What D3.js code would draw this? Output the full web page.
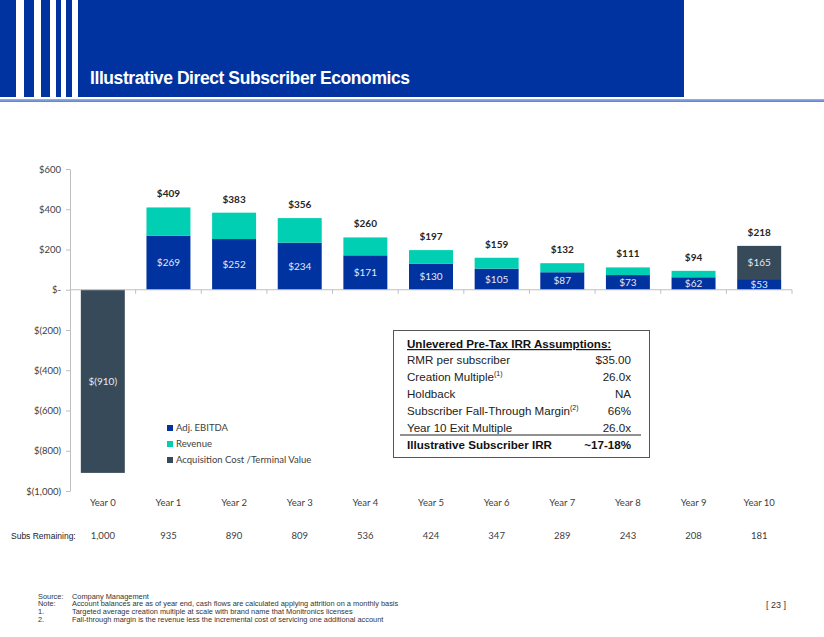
<!DOCTYPE html>
<html><head><meta charset="utf-8">
<script src="https://cdn.jsdelivr.net/npm/d3@7"></script>
<style>body{margin:0;background:#fff}svg{display:block}</style>
</head><body>
<svg id="c" width="824" height="637"></svg>
<script>
const years = ["Year 0","Year 1","Year 2","Year 3","Year 4","Year 5","Year 6","Year 7","Year 8","Year 9","Year 10"];
const ebitda = [0,269,252,234,171,130,105,87,73,62,53];
const revenue = [0,140,131,122,89,67,54,45,38,32,0];
const acquisition = [-910,0,0,0,0,0,0,0,0,0,165];
const totals = [null,409,383,356,260,197,159,132,111,94,218];
const subsRemaining = ["1,000","935","890","809","536","424","347","289","243","208","181"];
const yTicks = [-1000,-800,-600,-400,-200,0,200,400,600];
const seriesNames = ["Adj. EBITDA","Revenue","Acquisition Cost /Terminal Value"];
const colors = ["#0033a0","#00cfb4","#374a59"];
const assumptions = [
  ["RMR per subscriber","","$35.00"],
  ["Creation Multiple","(1)","26.0x"],
  ["Holdback","","NA"],
  ["Subscriber Fall-Through Margin","(2)","66%"],
  ["Year 10 Exit Multiple","","26.0x"]
];
const irrRow = ["Illustrative Subscriber IRR","~17-18%"];
const footnotes = [
  ["Source:","Company Management"],
  ["Note:","Account balances are as of year end, cash flows are calculated applying attrition on a monthly basis"],
  ["1.","Targeted average creation multiple at scale with brand name that Monitronics licenses"],
  ["2.","Fall-through margin is the revenue less the incremental cost of servicing one additional account"]
];

const svg = d3.select("#c");
const ARIAL = "'Liberation Sans', Arial, sans-serif";
const CAL = "Lato, 'Open Sans', sans-serif";

// Header
svg.append("rect").attr("x",0).attr("y",0).attr("width",684).attr("height",97).attr("fill","#0033a0");
[[16,8],[34,7],[50,6],[61,5],[72,6]].forEach(s=>{
  svg.append("rect").attr("x",s[0]).attr("y",0).attr("width",s[1]).attr("height",97).attr("fill","#fff");
});
const grad = svg.append("defs").append("linearGradient").attr("id","hl").attr("x1",0).attr("x2",0).attr("y1",0).attr("y2",1);
grad.append("stop").attr("offset","0%").attr("stop-color","#9db4e6");
grad.append("stop").attr("offset","100%").attr("stop-color","#5a7fcf");
svg.append("rect").attr("x",0).attr("y",99).attr("width",824).attr("height",3).attr("fill","url(#hl)");
svg.append("text").attr("x",90).attr("y",84).attr("fill","#fff")
  .attr("font-family",ARIAL).attr("font-weight","bold").attr("font-size",17.5)
  .attr("textLength",320).text("Illustrative Direct Subscriber Economics");

// Scales
const x = d3.scaleBand().domain(years).range([70,792]).paddingInner(0.33).paddingOuter(0.165);
const y = d3.scaleLinear().domain([-1000,600]).range([491,169]);

// Data table for stack
const rows = years.map((yr,i)=>({year:yr, "Adj. EBITDA":ebitda[i], "Revenue":revenue[i], "Acquisition Cost /Terminal Value":acquisition[i]}));
const stack = d3.stack().keys(seriesNames).offset(d3.stackOffsetDiverging)(rows);

// Y axis
const yAxis = svg.append("g").attr("transform","translate(70,0)")
  .call(d3.axisLeft(y).tickValues(yTicks).tickSize(4).tickSizeOuter(0)
    .tickFormat(d=> d===0 ? "$-" : d<0 ? "$(" + d3.format(",")(-d) + ")" : "$" + d3.format(",")(d)));
yAxis.select(".domain").attr("stroke","#bfbfbf");
yAxis.selectAll(".tick line").attr("stroke","#bfbfbf");
yAxis.selectAll(".tick text").attr("font-family",CAL).attr("font-size",9.5).attr("fill","#404040").attr("x",-9);

// Bars
svg.append("g").selectAll("g").data(stack).join("g")
  .attr("fill",(d,i)=>colors[i])
  .selectAll("rect").data(d=>d).join("rect")
  .attr("x",d=>x(d.data.year)).attr("width",x.bandwidth())
  .attr("y",d=>y(Math.max(d[0],d[1]))).attr("height",d=>Math.abs(y(d[0])-y(d[1])));

// X axis
const xAxisG = svg.append("g").attr("transform",`translate(0,${y(0)})`);
xAxisG.append("line").attr("x1",70).attr("x2",792).attr("y1",0).attr("y2",0).attr("stroke","#bfbfbf").attr("stroke-width",1.2);
const bounds = years.map(d=>x(d)-x.step()*x.paddingInner()/2).concat([792]);
xAxisG.selectAll("line.tk").data(bounds.slice(1)).join("line").attr("class","tk")
  .attr("x1",d=>d).attr("x2",d=>d).attr("y1",0).attr("y2",4).attr("stroke","#bfbfbf");
svg.append("g").selectAll("text").data(years).join("text")
  .attr("x",d=>x(d)+x.bandwidth()/2).attr("y",506).attr("text-anchor","middle")
  .attr("font-family",CAL).attr("font-size",9.5).attr("fill","#404040").text(d=>d);

// Inner labels
const fmt = v => v<0 ? "$(" + (-v) + ")" : "$" + v;
const inner = [];
years.forEach((yr,i)=>{
  if(ebitda[i]) inner.push({year:yr, lo:0, hi:ebitda[i], v:ebitda[i]});
  if(acquisition[i]<0) inner.push({year:yr, lo:acquisition[i], hi:0, v:acquisition[i]});
  if(acquisition[i]>0) inner.push({year:yr, lo:ebitda[i]+revenue[i], hi:ebitda[i]+revenue[i]+acquisition[i], v:acquisition[i]});
});
svg.append("g").selectAll("text").data(inner).join("text")
  .attr("x",d=>x(d.year)+x.bandwidth()/2).attr("y",d=>(y(d.lo)+y(d.hi))/2)
  .attr("dy","0.35em").attr("text-anchor","middle")
  .attr("font-family",CAL).attr("font-size",10).attr("fill","#e6e8f2").text(d=>fmt(d.v));

// Totals
svg.append("g").selectAll("text").data(years.map((yr,i)=>({year:yr,t:totals[i]})).filter(d=>d.t!==null)).join("text")
  .attr("x",d=>x(d.year)+x.bandwidth()/2).attr("y",d=>y(d.t)-10)
  .attr("text-anchor","middle").attr("font-family",CAL).attr("font-weight","bold")
  .attr("font-size",10).attr("fill","#262626").text(d=>"$"+d.t);

// Legend
const lg = svg.append("g").attr("transform","translate(167,428)");
seriesNames.forEach((n,i)=>{
  lg.append("rect").attr("x",0).attr("y",i*16-3).attr("width",6).attr("height",6).attr("fill",colors[i]);
  lg.append("text").attr("x",9).attr("y",i*16).attr("dy","0.35em").attr("font-family",CAL)
    .attr("font-size",9.5).attr("fill","#404040").text(n);
});

// Subs remaining
svg.append("text").attr("x",11).attr("y",536).attr("dy","0.35em").attr("font-family",ARIAL)
  .attr("font-size",8.5).attr("fill","#222").text("Subs Remaining:");
svg.append("g").selectAll("text").data(subsRemaining).join("text")
  .attr("x",(d,i)=>x(years[i])+x.bandwidth()/2).attr("y",536).attr("dy","0.35em")
  .attr("text-anchor","middle").attr("font-family",CAL).attr("font-size",9.5).attr("fill","#404040").text(d=>d);

// Assumptions box
const FS = 11.6;
const bx = svg.append("g");
bx.append("rect").attr("x",393.5).attr("y",330.5).attr("width",256).attr("height",127)
  .attr("fill","#fff").attr("stroke","#555").attr("stroke-width",1);
bx.append("text").attr("x",407).attr("y",344).attr("dy","0.35em").attr("font-family",ARIAL)
  .attr("font-weight","bold").attr("font-size",FS).attr("fill","#111")
  .attr("text-decoration","underline").text("Unlevered Pre-Tax IRR Assumptions:");
assumptions.forEach((r,i)=>{
  const yy = 360 + i*17;
  const t = bx.append("text").attr("x",407).attr("y",yy).attr("dy","0.35em").attr("font-family",ARIAL)
    .attr("font-size",FS).attr("fill","#222");
  t.append("tspan").text(r[0]);
  if(r[1]) t.append("tspan").attr("font-size",7).attr("dy","-0.75em").text(r[1]);
  bx.append("text").attr("x",631).attr("y",yy).attr("dy","0.35em").attr("text-anchor","end")
    .attr("font-family",ARIAL).attr("font-size",FS).attr("fill","#222").text(r[2]);
});
bx.append("line").attr("x1",400).attr("x2",641).attr("y1",435).attr("y2",435).attr("stroke","#222").attr("stroke-width",1.2);
bx.append("text").attr("x",407).attr("y",445).attr("dy","0.35em").attr("font-family",ARIAL)
  .attr("font-weight","bold").attr("font-size",FS).attr("fill","#111").text(irrRow[0]);
bx.append("text").attr("x",631).attr("y",445).attr("dy","0.35em").attr("text-anchor","end").attr("font-family",ARIAL)
  .attr("font-weight","bold").attr("font-size",FS).attr("fill","#111").text(irrRow[1]);

// Footnotes
footnotes.forEach((f,i)=>{
  const yy = 596 + i*7.9;
  svg.append("text").attr("x",38).attr("y",yy).attr("dy","0.35em").attr("font-family",ARIAL)
    .attr("font-size",7.4).attr("fill","#333").text(f[0]);
  svg.append("text").attr("x",72).attr("y",yy).attr("dy","0.35em").attr("font-family",ARIAL)
    .attr("font-size",7.4).attr("fill","#333").text(f[1]);
});
svg.append("text").attr("x",786).attr("y",605).attr("dy","0.35em").attr("text-anchor","end")
  .attr("font-family",ARIAL).attr("font-size",9).attr("fill","#333").text("[ 23 ]");
</script>
</body></html>
